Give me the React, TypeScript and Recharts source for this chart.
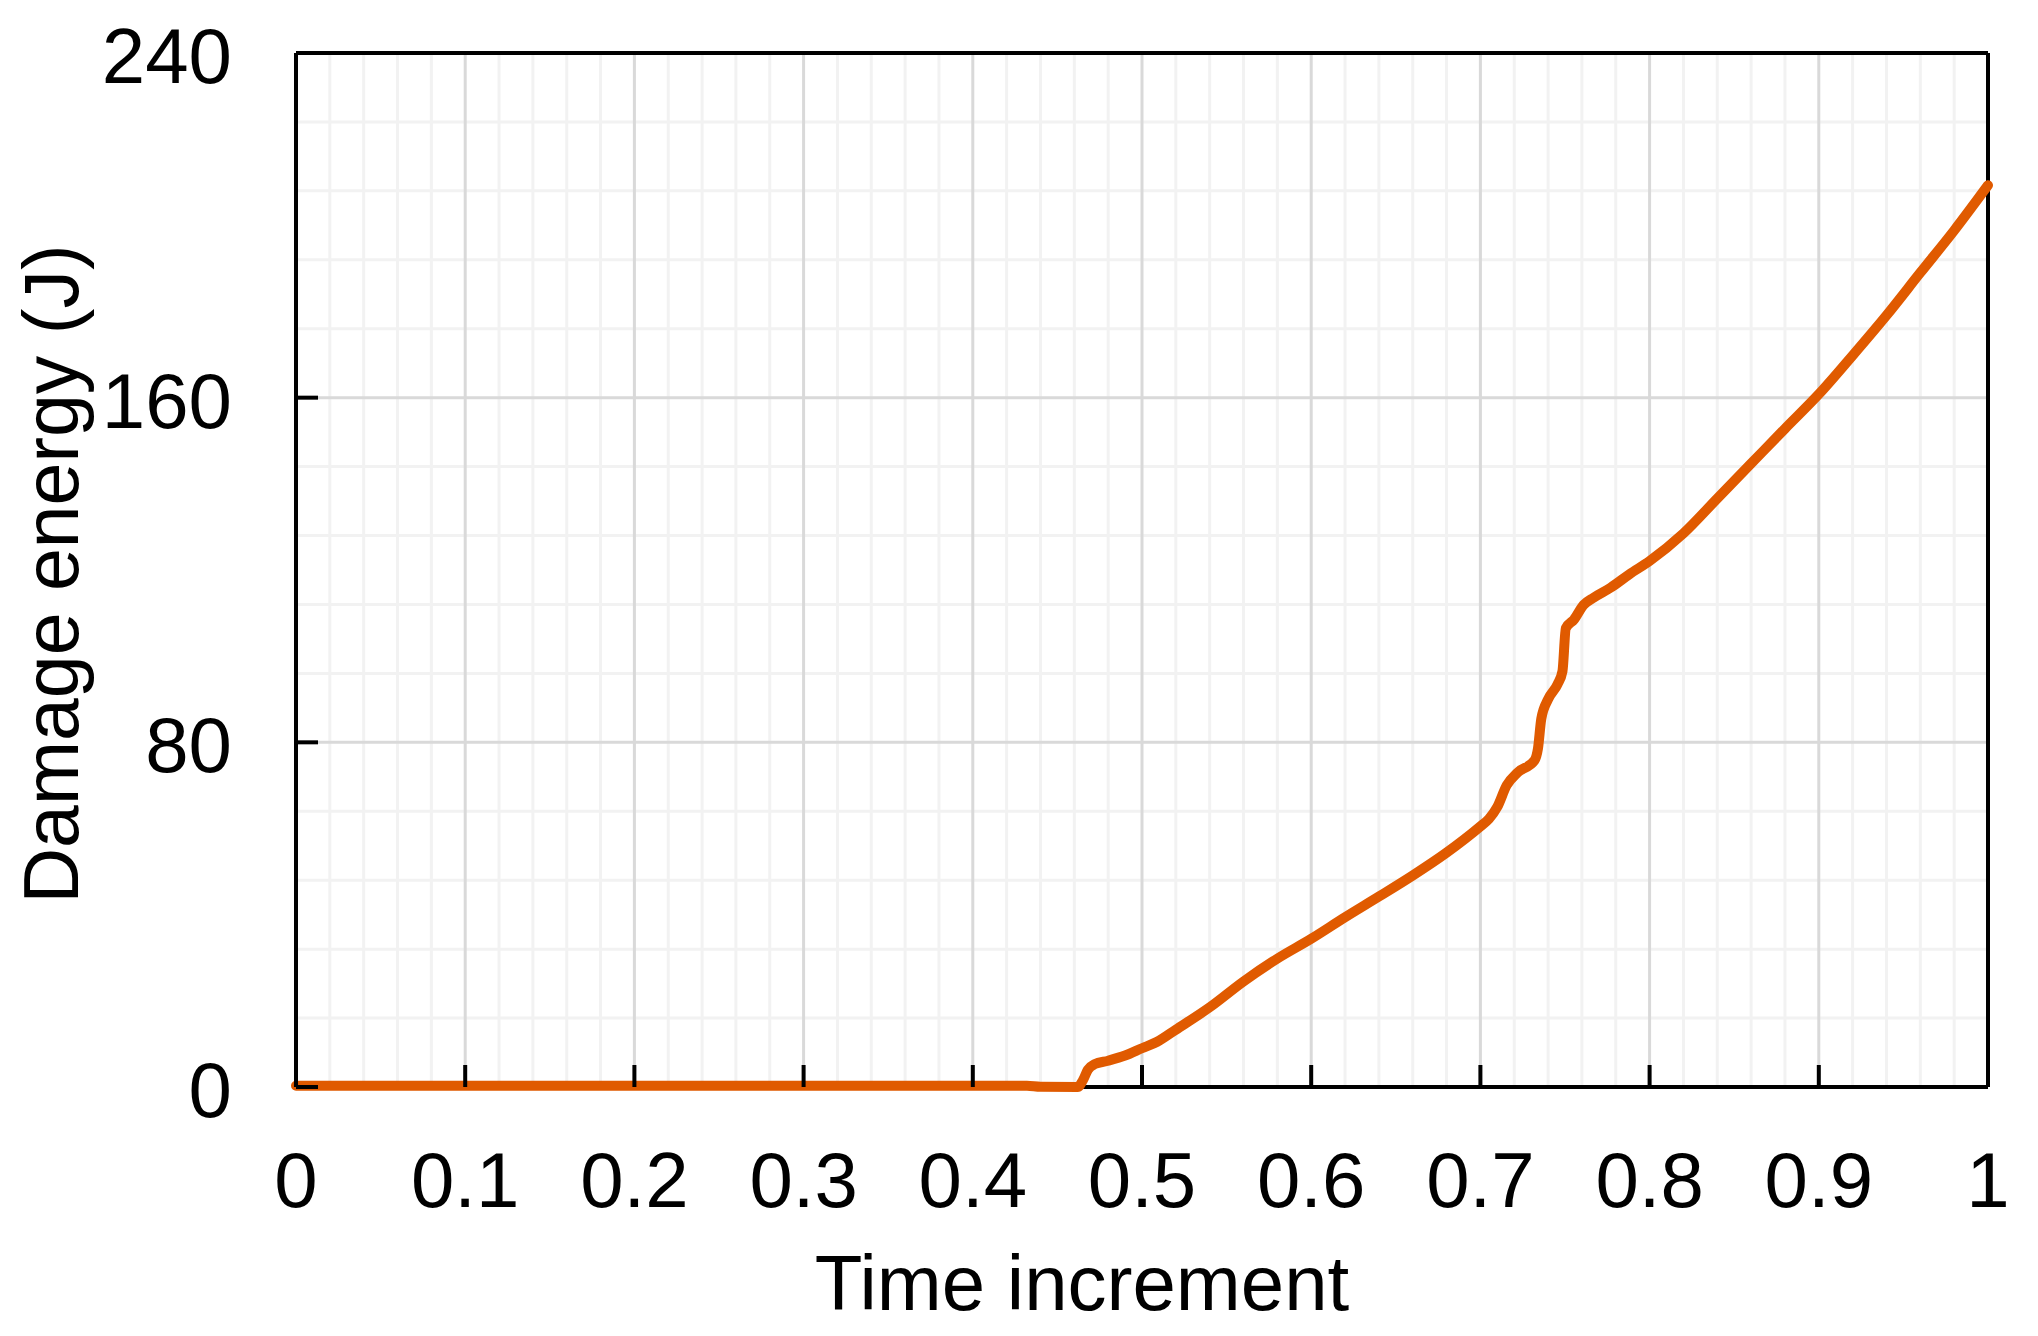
import {
  LineChart,
  Line,
  XAxis,
  YAxis,
  ReferenceLine,
  Label,
} from "recharts";

// time increment (x) and damage energy in J (y)
const timeSteps = [
  0, 0.1, 0.2, 0.3, 0.4, 0.432, 0.44, 0.462, 0.465, 0.468, 0.472, 0.48, 0.49,
  0.5, 0.509, 0.52, 0.54, 0.56, 0.58, 0.6, 0.62, 0.64, 0.66, 0.68, 0.7, 0.705,
  0.71, 0.7155, 0.722, 0.732, 0.734, 0.736, 0.74, 0.7456, 0.7485, 0.7505,
  0.7553, 0.761, 0.767, 0.777, 0.788, 0.8, 0.82, 0.84, 0.86, 0.88, 0.9, 0.92,
  0.94, 0.96, 0.98, 1,
];
const damageEnergy = [
  0.3, 0.3, 0.3, 0.3, 0.3, 0.3, 0.05, 0, 1.5, 4, 5.3, 6.1, 7.3, 9, 10.5, 13.3,
  18.5, 24.5, 29.8, 34.4, 39.4, 44.2, 49.1, 54.4, 60.5, 62.2, 65, 70, 73, 75.8,
  78.5, 85.5, 90, 93.5, 96.5, 106.5, 108.5, 111.9, 113.6, 115.9, 119, 122.1,
  128.5, 136.6, 144.7, 152.8, 160.8, 169.8, 179.1, 189, 198.8, 209.3,
];

const xTicks = [0, 0.1, 0.2, 0.3, 0.4, 0.5, 0.6, 0.7, 0.8, 0.9, 1];
const xTickLabels = ["0", "0.1", "0.2", "0.3", "0.4", "0.5", "0.6", "0.7", "0.8", "0.9", "1"];
const yTicks = [0, 80, 160, 240];

const xMajorGrid = [0.1, 0.2, 0.3, 0.4, 0.5, 0.6, 0.7, 0.8, 0.9];
const xMinorGrid = [
  0.02, 0.04, 0.06, 0.08, 0.12, 0.14, 0.16, 0.18, 0.22, 0.24, 0.26, 0.28,
  0.32, 0.34, 0.36, 0.38, 0.42, 0.44, 0.46, 0.48, 0.52, 0.54, 0.56, 0.58,
  0.62, 0.64, 0.66, 0.68, 0.72, 0.74, 0.76, 0.78, 0.82, 0.84, 0.86, 0.88,
  0.92, 0.94, 0.96, 0.98,
];
const yMajorGrid = [80, 160];
const yMinorGrid = [16, 32, 48, 64, 96, 112, 128, 144, 176, 192, 208, 224];

const data = timeSteps.map((t, i) => ({ t, e: damageEnergy[i] }));

const FONT = "'Liberation Sans', Arial, sans-serif";
const W = 2038;
const H = 1336;
const LEFT = 296;
const RIGHT = 50;
const TOP = 53;
const BOTTOM = 249;
const TICK_LEN = 22;

const XTick = (props: any) => {
  const { x, y, payload, index } = props;
  return (
    <g>
      <line x1={x} y1={y} x2={x} y2={y - TICK_LEN} stroke="#000" strokeWidth={4} />
      <text x={x} y={y + 120} textAnchor="middle" fontSize={78} fontFamily={FONT} fill="#000">
        {xTickLabels[index] ?? String(payload.value)}
      </text>
    </g>
  );
};

const YTick = (props: any) => {
  const { x, y, payload } = props;
  return (
    <g>
      <line x1={x} y1={y} x2={x + TICK_LEN} y2={y} stroke="#000" strokeWidth={4} />
      <text x={x - 64} y={y + 30} textAnchor="end" fontSize={78} fontFamily={FONT} fill="#000">
        {payload.value}
      </text>
    </g>
  );
};

const plotW = W - LEFT - RIGHT;
const plotH = H - TOP - BOTTOM;

export default function App() {
  return (
    <div style={{ position: "fixed", left: 0, top: 0, width: W, height: H, background: "#fff" }}>
      <LineChart
        width={W}
        height={H}
        data={data}
        margin={{ top: TOP, right: RIGHT, bottom: 0, left: 0 }}
      >
        {xMinorGrid.map((v) => (
          <ReferenceLine key={`xm${v}`} x={v} stroke="#f2f2f2" strokeWidth={3} />
        ))}
        {yMinorGrid.map((v) => (
          <ReferenceLine key={`ym${v}`} y={v} stroke="#f2f2f2" strokeWidth={3} />
        ))}
        {xMajorGrid.map((v) => (
          <ReferenceLine key={`xM${v}`} x={v} stroke="#d9d9d9" strokeWidth={3} />
        ))}
        {yMajorGrid.map((v) => (
          <ReferenceLine key={`yM${v}`} y={v} stroke="#d9d9d9" strokeWidth={3} />
        ))}
        <ReferenceLine x={0} stroke="#000" strokeWidth={4} />
        <ReferenceLine x={1} stroke="#000" strokeWidth={4} />
        <ReferenceLine y={0} stroke="#000" strokeWidth={4} />
        <ReferenceLine y={240} stroke="#000" strokeWidth={4} />
        <XAxis
          dataKey="t"
          type="number"
          domain={[0, 1]}
          ticks={xTicks}
          interval={0}
          height={BOTTOM}
          axisLine={false}
          tickLine={false}
          tickSize={0}
          tickMargin={0}
          tick={<XTick />}
        >
          <Label
            content={() => (
              <text
                x={LEFT + plotW / 2 - 60}
                y={1310}
                textAnchor="middle"
                fontSize={78}
                fontFamily={FONT}
                fill="#000"
              >
                Time increment
              </text>
            )}
          />
        </XAxis>
        <YAxis
          type="number"
          domain={[0, 240]}
          ticks={yTicks}
          interval={0}
          width={LEFT}
          axisLine={false}
          tickLine={false}
          tickSize={0}
          tickMargin={0}
          tick={<YTick />}
        >
          <Label
            content={() => (
              <text
                transform={`translate(78, ${TOP + plotH / 2 + 4}) rotate(-90)`}
                textAnchor="middle"
                fontSize={77}
                fontFamily={FONT}
                fill="#000"
              >
                Damage energy (J)
              </text>
            )}
          />
        </YAxis>
        <Line
          type="monotone"
          dataKey="e"
          stroke="#E05A00"
          strokeWidth={10}
          strokeLinecap="round"
          dot={false}
          activeDot={false}
          isAnimationActive={false}
          zIndex={600}
        />
      </LineChart>
    </div>
  );
}
